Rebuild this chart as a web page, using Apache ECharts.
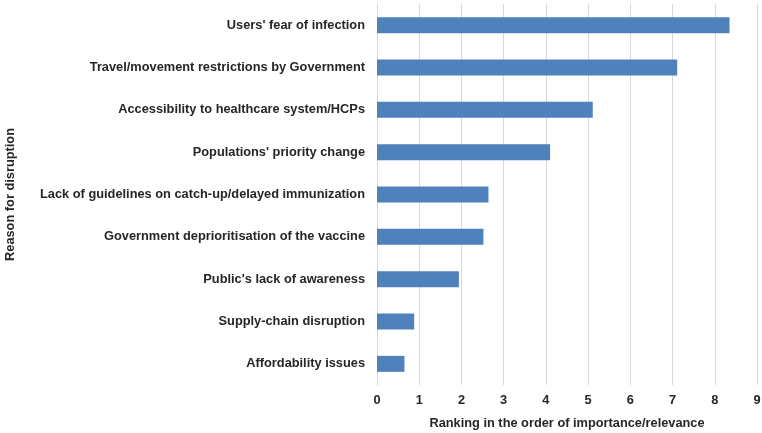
<!DOCTYPE html>
<html><head><meta charset="utf-8">
<script src="https://cdn.jsdelivr.net/npm/echarts@6/dist/echarts.min.js"></script>
<style>html,body{margin:0;padding:0;background:#fff}#c{width:762px;height:433px}</style>
</head><body><div id="c"></div>
<script>
const categories = [
  "Users' fear of infection",
  "Travel/movement restrictions by Government",
  "Accessibility to healthcare system/HCPs",
  "Populations' priority change",
  "Lack of guidelines on catch-up/delayed immunization",
  "Government deprioritisation of the vaccine",
  "Public's lack of awareness",
  "Supply-chain disruption",
  "Affordability issues"
];
const values = [8.35, 7.11, 5.11, 4.10, 2.64, 2.52, 1.94, 0.88, 0.65];
const xTicks = [0, 9, 1];

const chart = echarts.init(document.getElementById('c'), null, {renderer: 'canvas'});
const font = "'Liberation Sans', Arial, sans-serif";
const fs = 12.8;
chart.setOption({
  animation: false,
  backgroundColor: '#fff',
  grid: {left: 377, right: 5, top: 4, bottom: 48, containLabel: false, outerBoundsMode: 'none'},
  xAxis: {
    type: 'value', min: xTicks[0], max: xTicks[1], interval: xTicks[2],
    name: 'Ranking in the order of importance/relevance',
    nameLocation: 'middle', nameGap: 32,
    nameTextStyle: {fontFamily: font, fontWeight: 'bold', fontSize: fs, color: '#262626'},
    axisLine: {show: false}, axisTick: {show: false},
    axisLabel: {fontFamily: font, fontWeight: 'bold', fontSize: fs, color: '#262626', margin: 9},
    splitLine: {show: true, lineStyle: {color: '#d9d9d9', width: 1}}
  },
  yAxis: {
    type: 'category', data: categories, inverse: true,
    name: 'Reason for disruption', nameLocation: 'middle', nameGap: 360,
    nameTextStyle: {fontFamily: font, fontWeight: 'bold', fontSize: fs, color: '#262626'},
    axisLine: {show: true, lineStyle: {color: '#d9d9d9'}}, axisTick: {show: false},
    axisLabel: {fontFamily: font, fontWeight: 'bold', fontSize: fs, color: '#262626', margin: 12}
  },
  series: [{
    type: 'bar', data: values, barWidth: 16,
    itemStyle: {color: '#4f81bd'}
  }]
});
</script></body></html>
